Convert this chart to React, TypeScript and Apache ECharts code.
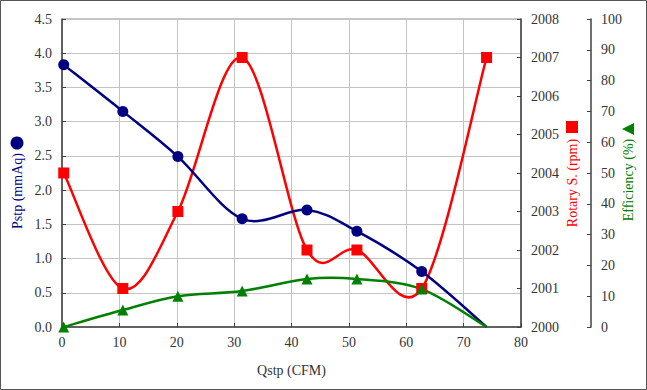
import React, { useEffect, useRef } from "react";
import * as echarts from "echarts";

const qstp = [0.3, 10.6, 20.2, 31.4, 42.7, 51.4, 62.7, 74.0];
const pstp = [3.83, 3.15, 2.49, 1.58, 1.71, 1.40, 0.81, 0.0];
const rpm = [2004.0, 2001.0, 2003.0, 2007.0, 2002.0, 2002.0, 2001.0, 2007.0];
const eff = [0, 5.5, 10, 11.7, 15.6, 15.6, 12.3, 0];

const xTicks = { min: 0, max: 80, interval: 10 };
const pTicks = { min: 0, max: 4.5, interval: 0.5 };
const rTicks = { min: 2000, max: 2008, interval: 1 };
const eTicks = { min: 0, max: 100, interval: 10 };

const FONT = "'Times New Roman', 'Liberation Serif', serif";
const NAVY = "#000080";
const RED = "#ff0000";
const GREEN = "#008000";
const AX = "#404040";

function curveSeries(ys: number[], yAxisIndex: number, color: string, z: number) {
  const n = qstp.length;
  return {
    type: "custom",
    yAxisIndex,
    z,
    silent: true,
    clip: false,
    data: qstp.slice(0, n - 1).map((x, i) => [x, ys[i], i]),
    renderItem: (params: any, api: any) => {
      const i = api.value(2);
      const pt = (j: number) => {
        const k = Math.max(0, Math.min(n - 1, j));
        return api.coord([qstp[k], ys[k]]);
      };
      const p0 = pt(i - 1), p1 = pt(i), p2 = pt(i + 1), p3 = pt(i + 2);
      const t = 1 / 6;
      return {
        type: "bezierCurve",
        shape: {
          x1: p1[0], y1: p1[1],
          x2: p2[0], y2: p2[1],
          cpx1: p1[0] + (p2[0] - p0[0]) * t,
          cpy1: p1[1] + (p2[1] - p0[1]) * t,
          cpx2: p2[0] - (p3[0] - p1[0]) * t,
          cpy2: p2[1] - (p3[1] - p1[1]) * t,
        },
        style: { stroke: color, lineWidth: 2.5, fill: "none" },
      };
    },
  };
}

export default function App() {
  const ref = useRef<HTMLDivElement>(null);
  useEffect(() => {
    if (!ref.current) return;
    const chart = echarts.init(ref.current, undefined, { renderer: "svg" });
    const pair = (ys: number[], count: number) => qstp.slice(0, count).map((x, i) => [x, ys[i]]);
    const lbl = { color: "#333", fontFamily: FONT, fontSize: 14 };
    chart.setOption({
      animation: false,
      backgroundColor: "#fff",
      textStyle: { fontFamily: FONT },
      grid: { left: 62, right: 126, top: 19, bottom: 63, show: true, borderColor: "#8a8a8a", borderWidth: 1 },
      xAxis: {
        type: "value",
        ...xTicks,
        name: "Qstp (CFM)",
        nameLocation: "middle",
        nameGap: 36,
        nameTextStyle: { color: "#333", fontFamily: FONT, fontSize: 14 },
        axisLine: { show: true, lineStyle: { color: AX, width: 1.5 } },
        axisTick: { show: true, inside: true, length: 4, lineStyle: { color: AX } },
        axisLabel: { ...lbl, margin: 8 },
        splitLine: { show: true, lineStyle: { color: "#c4c4c4", width: 1 } },
      },
      yAxis: [
        {
          type: "value",
          ...pTicks,
          position: "left",
          axisLine: { show: true, lineStyle: { color: AX, width: 1.5 } },
          axisTick: { show: true, inside: true, length: 4, lineStyle: { color: AX } },
          axisLabel: { ...lbl, margin: 10, formatter: (v: number) => v.toFixed(1) },
          splitLine: { show: true, lineStyle: { color: "#c4c4c4", width: 1 } },
        },
        {
          type: "value",
          ...rTicks,
          position: "right",
          axisLine: { show: true, lineStyle: { color: AX, width: 1.5 } },
          axisTick: { show: true, inside: true, length: 4, lineStyle: { color: AX } },
          axisLabel: { ...lbl, margin: 10, formatter: (v: number) => String(v) },
          splitLine: { show: false },
        },
        {
          type: "value",
          ...eTicks,
          position: "right",
          offset: 70,
          axisLine: { show: true, lineStyle: { color: AX, width: 1.5 } },
          axisTick: { show: true, inside: true, length: 4, lineStyle: { color: AX } },
          axisLabel: { ...lbl, margin: 10, formatter: (v: number) => String(v) },
          splitLine: { show: false },
        },
      ],
      series: [
        curveSeries(rpm, 1, RED, 2),
        curveSeries(pstp, 0, NAVY, 3),
        curveSeries(eff, 2, GREEN, 4),
        {
          name: "Rotary S. (rpm)",
          type: "scatter",
          yAxisIndex: 1,
          data: pair(rpm, qstp.length),
          symbol: "rect",
          symbolSize: 11,
          itemStyle: { color: RED, opacity: 1 },
          z: 5,
        },
        {
          name: "Pstp (mmAq)",
          type: "scatter",
          yAxisIndex: 0,
          data: pair(pstp, qstp.length - 1),
          symbol: "circle",
          symbolSize: 11,
          itemStyle: { color: NAVY, opacity: 1 },
          z: 6,
        },
        {
          name: "Efficiency (%)",
          type: "scatter",
          yAxisIndex: 2,
          data: pair(eff, qstp.length - 1),
          symbol: "triangle",
          symbolSize: 11,
          itemStyle: { color: GREEN, opacity: 1 },
          z: 7,
        },
      ],
      graphic: [
        { type: "rect", shape: { x: 0.5, y: 0.5, width: 646, height: 389 }, style: { fill: "none", stroke: "#555", lineWidth: 1 }, silent: true },
        { type: "circle", shape: { cx: 17, cy: 143, r: 6.5 }, style: { fill: NAVY } },
        { type: "text", x: 17, y: 191, rotation: Math.PI / 2, style: { text: "Pstp (mmAq)", fill: NAVY, font: `14px ${FONT}`, align: "center", verticalAlign: "middle" } },
        { type: "rect", shape: { x: 566, y: 121, width: 12, height: 12 }, style: { fill: RED } },
        { type: "text", x: 572, y: 183, rotation: Math.PI / 2, style: { text: "Rotary S. (rpm)", fill: RED, font: `14px ${FONT}`, align: "center", verticalAlign: "middle" } },
        { type: "polygon", shape: { points: [[622, 129], [634, 123], [634, 135]] }, style: { fill: GREEN } },
        { type: "text", x: 628, y: 180, rotation: Math.PI / 2, style: { text: "Efficiency (%)", fill: GREEN, font: `14px ${FONT}`, align: "center", verticalAlign: "middle" } },
      ],
    });
    return () => chart.dispose();
  }, []);
  return <div ref={ref} style={{ position: "fixed", left: 0, top: 0, width: 647, height: 390 }} />;
}
